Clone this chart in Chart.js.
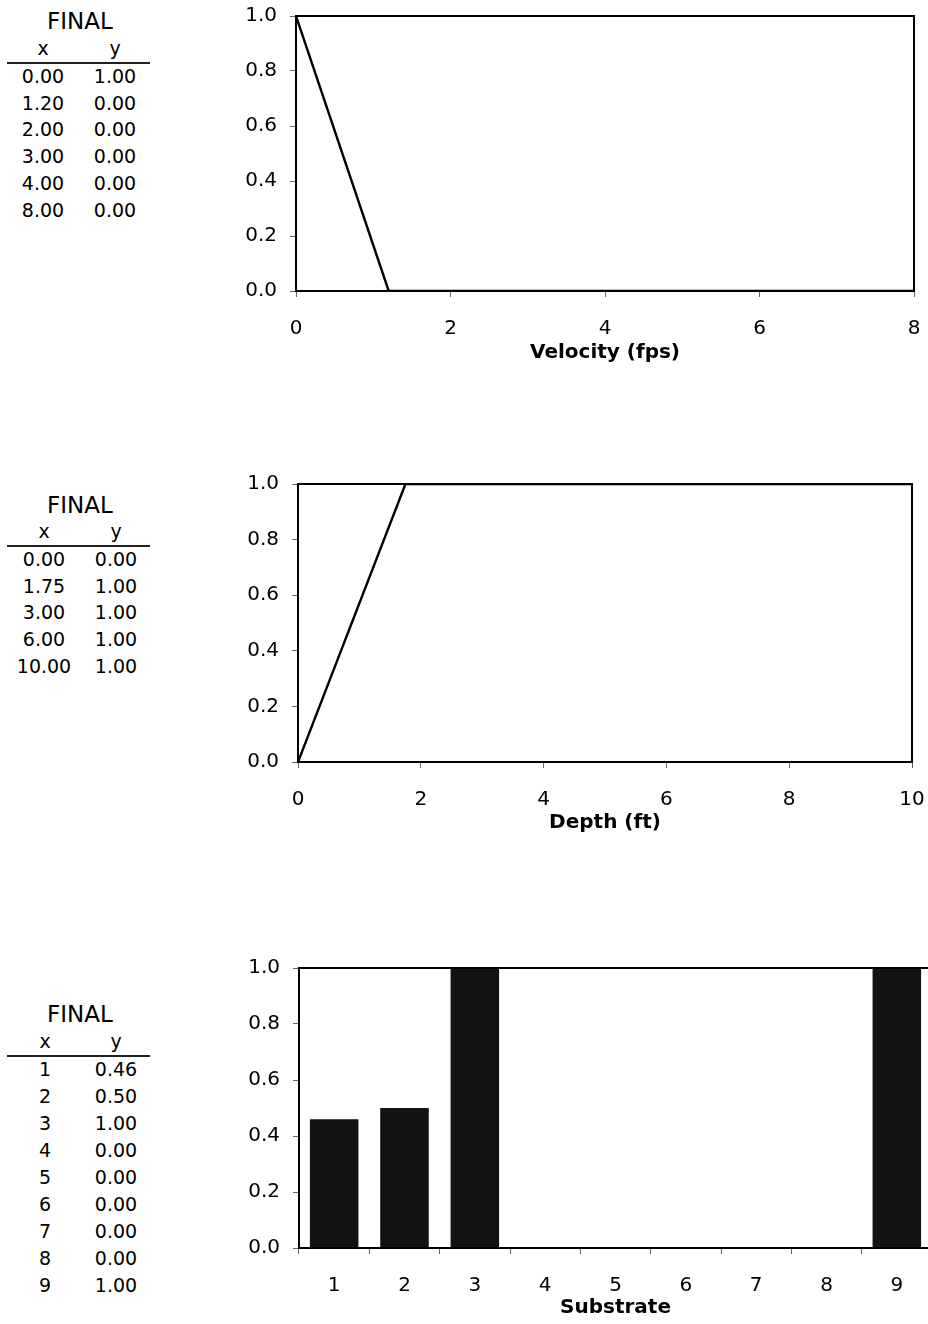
<!DOCTYPE html>
<html><head><meta charset="utf-8">
<script src="https://cdn.jsdelivr.net/npm/chart.js@4.4.1/dist/chart.umd.min.js"></script>
<style>
html,body{margin:0;padding:0;background:#fff;}
body{width:928px;height:1324px;overflow:hidden;position:relative;font-family:"DejaVu Sans",sans-serif;color:#000;}
canvas.c{position:absolute;}
.t{position:absolute;text-align:center;white-space:nowrap;width:90px;}
.ln{position:absolute;height:2px;background:#222;}
</style></head><body>
<script>
// ---- data ----
const velocityX = [0.00, 1.20, 2.00, 3.00, 4.00, 8.00];
const velocityY = [1.00, 0.00, 0.00, 0.00, 0.00, 0.00];
const depthX = [0.00, 1.75, 3.00, 6.00, 10.00];
const depthY = [0.00, 1.00, 1.00, 1.00, 1.00];
const substrateX = [1, 2, 3, 4, 5, 6, 7, 8, 9];
const substrateY = [0.46, 0.50, 1.00, 0.00, 0.00, 0.00, 0.00, 0.00, 1.00];
const yTicks = [0, 0.2, 0.4, 0.6, 0.8, 1.0];
const tableTitle = 'FINAL';
const velocityTitle = 'Velocity (fps)';
const depthTitle = 'Depth (ft)';
const substrateTitle = 'Substrate';

const FONT = '"DejaVu Sans", sans-serif';
const INK = '#000';

// ---- tables ----
function addText(txt, cx, top, size, extra) {
  const d = document.createElement('div');
  d.className = 't';
  d.textContent = txt;
  d.style.left = (cx - 45) + 'px';
  d.style.top = top + 'px';
  d.style.fontSize = size + 'px';
  d.style.lineHeight = (size + 2) + 'px';
  if (extra) Object.assign(d.style, extra);
  document.body.appendChild(d);
}
function makeTable(xs, ys, fmtX, o) {
  addText(tableTitle, 80, o.titleY - 13.5, 23);
  addText('x', o.xc, o.lineY - 8 - 17, 19);
  addText('y', o.yc, o.lineY - 8 - 17, 19);
  const l = document.createElement('div');
  l.className = 'ln';
  l.style.left = '7px'; l.style.width = '143px'; l.style.top = (o.lineY - 1) + 'px';
  document.body.appendChild(l);
  xs.forEach((x, i) => {
    const cy = o.row0 + i * o.step;
    addText(fmtX(x), o.xc, cy - 10.5, 19);
    addText(ys[i].toFixed(2), o.yc, cy - 10.5, 19);
  });
}
makeTable(velocityX, velocityY, v => v.toFixed(2), {titleY: 22, lineY: 63, row0: 76.5, step: 26.7, xc: 43, yc: 115});
makeTable(depthX, depthY, v => v.toFixed(2), {titleY: 506, lineY: 546, row0: 559.5, step: 26.7, xc: 44, yc: 116});
makeTable(substrateX, substrateY, v => String(v), {titleY: 1015, lineY: 1056, row0: 1069.5, step: 27, xc: 45, yc: 116});

// ---- charts ----
const boxPlugin = {
  id: 'box',
  afterDatasetsDraw(chart) {
    const a = chart.chartArea, c = chart.ctx;
    c.save();
    c.strokeStyle = INK; c.lineWidth = 2;
    c.strokeRect(a.left, a.top, a.right - a.left, a.bottom - a.top);
    c.restore();
  }
};

function makeCanvas(left, top, w, h) {
  const cv = document.createElement('canvas');
  cv.className = 'c';
  cv.width = w; cv.height = h;
  cv.style.left = left + 'px'; cv.style.top = top + 'px';
  cv.style.width = w + 'px'; cv.style.height = h + 'px';
  document.body.appendChild(cv);
  return cv;
}

function yScale(width) {
  return {
    min: 0, max: 1,
    afterBuildTicks(s) { s.ticks = yTicks.map(v => ({value: v})); },
    ticks: {padding: 13, color: INK, font: {family: FONT, size: 20}, callback: v => Number(v).toFixed(1)},
    grid: {drawOnChartArea: false, tickLength: 6, color: '#666', lineWidth: 1},
    border: {display: false},
    afterFit(s) { s.width = width; s.paddingTop = 0; s.paddingBottom = 0; }
  };
}
function xCommon(title, height) {
  return {
    ticks: {padding: 20, color: INK, font: {family: FONT, size: 20}, maxRotation: 0, autoSkip: false},
    grid: {drawOnChartArea: false, tickLength: 6, color: '#666', lineWidth: 1},
    border: {display: false},
    title: {display: true, text: title, color: INK, font: {family: FONT, size: 20, weight: 'bold'}, padding: {top: 0, bottom: 5}},
    afterFit(s) { s.height = height; s.paddingLeft = 0; s.paddingRight = 0; }
  };
}
const baseOpts = (pad) => ({
  responsive: false, animation: false, devicePixelRatio: 1,
  layout: {padding: pad},
  plugins: {legend: {display: false}, tooltip: {enabled: false}}
});

function lineChart(cv, xs, ys, xmax, title, axisH, yW, pad) {
  const x = Object.assign({type: 'linear', min: 0, max: xmax}, xCommon(title, axisH));
  x.ticks.stepSize = 2;
  new Chart(cv, {
    type: 'line',
    data: {datasets: [{data: xs.map((v, i) => ({x: v, y: ys[i]})), borderColor: INK, borderWidth: 2.4, pointRadius: 0, tension: 0, fill: false}]},
    options: Object.assign(baseOpts(pad), {scales: {x, y: yScale(yW)}}),
    plugins: [boxPlugin]
  });
}

lineChart(makeCanvas(200, 0, 728, 370), velocityX, velocityY, 8, velocityTitle, 79, 96, {top: 16, right: 14, left: 0, bottom: 0});
lineChart(makeCanvas(200, 468, 728, 372), depthX, depthY, 10, depthTitle, 78, 98, {top: 16, right: 16, left: 0, bottom: 0});

const xb = Object.assign({type: 'category', offset: true}, xCommon(substrateTitle, 77));
xb.grid.offset = true;
new Chart(makeCanvas(200, 952, 750, 373), {
  type: 'bar',
  data: {labels: substrateX.map(String), datasets: [{data: substrateY, backgroundColor: '#121212', borderWidth: 0, barPercentage: 0.69, categoryPercentage: 1}]},
  options: Object.assign(baseOpts({top: 16, right: 18, left: 0, bottom: 0}), {scales: {x: xb, y: yScale(99)}}),
  plugins: [boxPlugin]
});
</script>
</body></html>
